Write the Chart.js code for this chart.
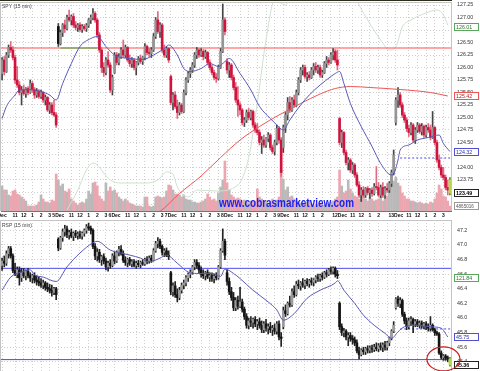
<!DOCTYPE html>
<html><head><meta charset="utf-8">
<script src="https://cdn.jsdelivr.net/npm/chart.js@4.4.1/dist/chart.umd.min.js"></script>
<style>
html,body{margin:0;padding:0;background:#fff;overflow:hidden;width:480px;height:371px;}
canvas{position:absolute;left:0;display:block;}
</style></head><body>
<canvas id="spy" width="480" height="220" style="top:0"></canvas>
<canvas id="rsp" width="480" height="151" style="top:220px"></canvas>
<script>
// ---------- time axis ----------
const dayNames = ['Dec','5Dec','6Dec','7Dec','8Dec','9Dec','12Dec','13Dec'];
const hourNames = ['11','12','1','2','3'];
const hourBars = [6,10,14,18,22];
const barsPerDay = 26;
const hiddenHourTicks = [152,178];

// ---------- SPY 15 min ----------
const spyOpen = [
125.88,126.15,125.92,126.25,126.40,126.35,126.20,125.75,125.65,125.50,125.55,125.48,125.58,125.50,125.68,125.55,125.45,125.52,125.42,125.50,125.35,125.40,125.15,125.25,125.10,125.05,
126.82,126.48,126.70,126.85,126.78,127.00,126.95,127.02,126.85,126.80,126.85,126.76,126.82,126.78,126.84,126.95,127.00,127.08,126.95,126.65,126.35,126.00,125.90,126.15,126.05,125.55,
125.90,126.25,126.10,126.22,126.35,126.25,126.40,126.15,126.08,126.15,126.00,126.10,126.18,126.12,126.20,126.42,126.30,126.28,126.35,126.62,126.95,126.72,126.85,126.35,126.25,126.38,
125.82,125.30,125.45,125.22,125.10,125.25,125.12,125.50,125.75,125.88,125.95,126.05,126.25,126.35,126.25,126.32,126.22,126.30,126.10,126.00,125.90,125.80,125.78,126.00,126.32,126.95,
126.12,125.95,126.05,125.80,125.60,125.35,125.25,125.15,124.90,124.95,125.10,125.00,125.12,124.85,124.75,124.70,124.50,124.55,124.45,124.58,124.65,124.40,124.32,124.50,124.78,124.55,
124.40,124.80,125.05,125.30,125.15,125.35,125.25,125.50,125.75,125.95,126.00,125.82,125.85,125.80,125.95,126.02,125.95,126.00,125.85,125.90,126.08,126.15,126.10,126.25,126.32,126.15,
124.98,124.50,124.70,124.30,124.10,124.15,123.95,124.05,123.85,123.65,123.45,123.55,123.45,123.58,123.50,123.55,123.48,123.62,123.60,123.45,123.60,123.45,123.58,123.55,123.68,123.90,
124.90,125.35,125.45,125.25,125.05,124.95,124.78,124.70,124.85,124.55,124.75,124.85,124.72,124.82,124.65,124.80,124.75,124.60,124.80,124.50,124.15,124.00,123.85,123.80,123.60,123.75];
const spyHigh = [
126.20,126.22,126.30,126.45,126.52,126.42,126.25,126.02,125.72,125.62,125.65,125.60,125.62,125.75,125.72,125.60,125.58,125.56,125.55,125.52,125.45,125.42,125.30,125.30,125.35,125.10,
126.88,126.75,126.88,126.95,127.05,127.15,127.05,127.08,126.92,126.88,126.90,126.86,126.86,126.88,126.98,127.05,127.18,127.12,126.98,126.70,126.40,126.10,126.20,126.32,126.10,125.85,
126.30,126.30,126.28,126.40,126.55,126.45,126.42,126.25,126.20,126.18,126.12,126.22,126.25,126.22,126.48,126.45,126.38,126.40,126.68,127.00,127.12,126.90,126.88,126.45,126.42,126.40,
125.85,125.50,125.52,125.35,125.30,125.28,125.55,125.80,125.92,126.00,126.10,126.30,126.40,126.38,126.38,126.36,126.35,126.32,126.15,126.05,125.95,125.88,126.05,126.38,127.27,127.00,
126.18,126.10,126.08,125.85,125.70,125.62,125.30,125.18,125.00,125.15,125.18,125.15,125.15,124.90,124.88,124.75,124.62,124.65,124.60,124.70,124.68,124.45,124.55,124.85,124.82,124.60,
124.85,125.10,125.40,125.42,125.40,125.45,125.55,125.80,126.00,126.05,126.05,125.90,125.92,126.00,126.08,126.10,126.05,126.05,125.95,126.12,126.22,126.20,126.30,126.38,126.36,126.35,
125.00,124.75,124.72,124.35,124.20,124.18,124.10,124.08,123.90,123.72,123.60,123.62,123.60,123.62,123.58,123.60,123.68,124.02,123.70,123.65,123.70,123.62,123.68,123.72,123.95,124.35,
125.40,125.60,125.50,125.30,125.10,125.00,124.85,124.90,124.88,124.80,124.90,124.88,124.88,124.85,124.85,124.88,124.85,125.12,124.82,124.55,124.25,124.05,124.00,123.85,123.75,123.80];
const spyLow = [
125.75,125.85,125.90,126.20,126.30,126.15,125.68,125.60,125.45,125.25,125.45,125.40,125.45,125.48,125.50,125.38,125.40,125.38,125.38,125.30,125.25,125.12,125.08,125.05,125.02,124.80,
126.42,126.45,126.62,126.70,126.75,126.92,126.85,126.80,126.75,126.72,126.72,126.70,126.74,126.72,126.80,126.88,126.95,126.90,126.60,126.30,125.90,125.82,125.85,126.00,125.50,125.45,
125.88,126.05,126.05,126.18,126.20,126.20,126.12,126.02,126.00,125.95,125.85,126.05,126.08,126.06,126.15,126.25,126.22,126.20,126.32,126.58,126.68,126.60,126.30,126.20,126.20,126.10,
125.25,125.15,125.18,124.98,125.05,125.08,125.10,125.45,125.70,125.80,125.90,126.00,126.18,126.20,126.22,126.15,126.18,126.05,125.95,125.85,125.75,125.70,125.75,125.98,126.30,126.65,
125.88,125.80,125.75,125.55,125.30,125.02,125.05,124.85,124.82,124.90,124.95,124.95,124.80,124.70,124.65,124.45,124.28,124.40,124.40,124.52,124.35,124.28,124.25,124.45,124.48,123.82,
124.30,124.70,124.95,125.10,125.12,125.20,125.22,125.45,125.70,125.85,125.78,125.72,125.75,125.78,125.85,125.90,125.88,125.80,125.80,125.88,126.00,126.05,126.08,126.15,126.10,125.95,
124.45,124.40,124.25,124.05,123.95,123.90,123.88,123.80,123.62,123.40,123.32,123.40,123.40,123.45,123.38,123.42,123.45,123.55,123.42,123.40,123.40,123.38,123.50,123.50,123.62,123.85,
124.85,125.20,125.20,125.00,124.90,124.72,124.62,124.65,124.50,124.48,124.70,124.68,124.65,124.60,124.60,124.70,124.55,124.58,124.45,124.10,123.95,123.80,123.75,123.55,123.45,123.45];
const spyClose = [
126.15,125.92,126.25,126.40,126.35,126.20,125.75,125.65,125.50,125.55,125.48,125.58,125.50,125.68,125.55,125.45,125.52,125.42,125.50,125.35,125.40,125.15,125.25,125.10,125.05,124.85,
126.48,126.70,126.85,126.78,127.00,126.95,127.02,126.85,126.80,126.85,126.76,126.82,126.78,126.84,126.95,127.00,127.08,126.95,126.65,126.35,126.00,125.90,126.15,126.05,125.55,125.80,
126.25,126.10,126.22,126.35,126.25,126.40,126.15,126.08,126.15,126.00,126.10,126.18,126.12,126.20,126.42,126.30,126.28,126.35,126.62,126.95,126.72,126.85,126.35,126.25,126.38,126.15,
125.30,125.45,125.22,125.10,125.25,125.12,125.50,125.75,125.88,125.95,126.05,126.25,126.35,126.25,126.32,126.22,126.30,126.10,126.00,125.90,125.80,125.78,126.00,126.32,126.95,126.72,
125.95,126.05,125.80,125.60,125.35,125.25,125.15,124.90,124.95,125.10,125.00,125.12,124.85,124.75,124.70,124.50,124.55,124.45,124.58,124.65,124.40,124.32,124.50,124.78,124.55,123.90,
124.80,125.05,125.30,125.15,125.35,125.25,125.50,125.75,125.95,126.00,125.82,125.85,125.80,125.95,126.02,125.95,126.00,125.85,125.90,126.08,126.15,126.10,126.25,126.30,126.15,126.05,
124.50,124.70,124.30,124.10,124.15,123.95,124.05,123.85,123.65,123.45,123.55,123.45,123.58,123.50,123.55,123.48,123.62,123.60,123.45,123.60,123.45,123.58,123.55,123.68,123.90,124.25,
125.35,125.45,125.25,125.05,124.95,124.78,124.70,124.85,124.55,124.75,124.85,124.72,124.82,124.65,124.80,124.75,124.60,124.80,124.50,124.15,124.00,123.85,123.80,123.60,123.55,123.49];
// volume, millions of shares per bar
const spyVolume = [
25,21,21,16,15,20,21,17,16,14,12,10,5,5,5,5,6,9,16,12,9,9,8,11,10,37,
31,25,27,20,19,22,12,10,8,6,8,9,8,12,20,17,28,29,25,15,12,10,28,20,24,20,
21,18,14,12,10,12,10,8,7,6,5,5,5,4,14,14,5,4,5,14,15,14,13,14,20,26,
25,21,17,17,16,14,16,12,11,11,9,9,8,8,9,10,12,17,14,11,12,10,18,24,31,50,
28,21,16,14,12,13,12,10,11,9,8,10,9,10,22,14,12,10,9,8,10,12,9,11,14,41,
32,21,24,14,15,12,10,9,8,8,7,9,10,6,5,7,6,8,5,6,8,7,9,10,12,14,
41,25,18,20,31,22,18,15,14,12,20,16,12,10,14,12,10,11,12,14,10,12,15,20,27,30,
34,28,25,18,15,12,12,10,10,9,8,9,8,7,8,7,9,8,12,18,26,22,15,14,10,4.87];
// moving averages / overlays (bar index, value)
const spyMaBars = [0,2,6,8,13,18,22,25,28,32,36,41,44,48,52,55,59,65,70,75,77,81,84,87,92,96,100,103,105,110,115,119,124,127,130,133,138,142,147,152,154,156,158,161,166,171,175,180,181,183,184,188,192,197,202,204,207];
const spyMaValues = [124.98,125.22,125.45,125.55,125.56,125.52,125.45,125.35,125.68,126.08,126.42,126.58,126.62,126.42,126.25,126.2,126.18,126.16,126.25,126.38,126.45,126.25,125.98,125.92,125.98,126.08,126.02,126.12,126.18,125.88,125.55,125.22,124.98,124.85,124.75,124.95,125.25,125.45,125.65,125.82,125.88,125.92,125.68,125.28,124.82,124.42,124.08,123.85,123.87,124.15,124.35,124.45,124.55,124.6,124.65,124.48,124.32];
const spyLongMaBars = [70,73,82,92,101,110,119,128,138,147,154,161,170,184,198,206];
const spyLongMaValues = [123.05,123.12,123.48,123.83,124.2,124.55,124.82,125.05,125.28,125.47,125.58,125.62,125.6,125.56,125.5,125.43];
const spyBandBars = [30,35,39,42,44,47,50,55,67,72,76,79,81,86,90,99,109,114,118,122,126,131,135,152,161,164,169,175,179,182,185,189,196,201,204,206];
const spyBandValues = [123.15,123.55,123.95,124.09,124.05,123.89,123.75,123.69,123.69,123.75,123.91,123.87,123.61,123.41,123.55,123.53,123.65,124.2,125.3,126.55,127.35,127.25,127.75,128.5,127.75,127.35,126.95,126.55,126.35,126.41,126.81,126.95,127.09,127.15,127.05,126.85];
const spyResistance = 126.39;
const spyResistanceGreenBars = [27,44];
const spyDashLevel = 124.19;
const spyDashFromBar = 184;
const spyPriceTicks = [123.25,123.5,123.75,124,124.25,124.5,124.75,125,125.25,125.5,125.75,126,126.25,126.5,126.75,127,127.25];
const spyTagTexts = ['126.01','125.42','124.32','123.49','4865016'];

// ---------- RSP 15 min ----------
const rspOpen = [
46.72,46.78,46.75,46.88,46.95,46.85,46.65,46.60,46.66,46.55,46.62,46.58,46.64,46.58,46.55,46.58,46.52,46.50,46.48,46.45,46.48,46.42,46.40,46.38,46.35,46.40,
47.08,46.96,47.10,47.18,47.22,47.14,47.17,47.12,47.16,47.13,47.15,47.12,47.16,47.20,47.25,47.23,47.20,46.98,46.85,46.90,46.80,46.84,46.78,46.70,46.75,46.72,
46.85,46.78,46.90,46.94,46.88,46.79,46.76,46.80,46.74,46.77,46.72,46.75,46.73,46.76,46.74,46.80,46.78,46.82,46.79,46.92,47.02,47.05,46.98,46.90,46.92,46.86,
46.62,46.36,46.44,46.32,46.28,46.38,46.45,46.48,46.55,46.60,46.63,46.70,46.76,46.72,46.66,46.60,46.58,46.62,46.56,46.58,46.54,46.57,46.55,46.70,46.92,47.05,
46.62,46.50,46.36,46.28,46.14,46.24,46.16,46.22,46.12,46.02,45.90,45.96,45.94,45.98,45.92,45.95,45.90,45.84,45.92,45.86,45.88,45.84,45.86,45.82,45.92,45.74,
45.88,46.10,46.06,46.20,46.18,46.36,46.32,46.46,46.44,46.48,46.45,46.50,46.47,46.51,46.49,46.52,46.56,46.54,46.58,46.56,46.62,46.60,46.66,46.64,46.68,46.60,
46.20,45.88,45.80,45.82,45.74,45.76,45.72,45.70,45.66,45.55,45.50,45.56,45.54,45.58,45.56,45.59,45.57,45.60,45.58,45.62,45.60,45.63,45.60,45.66,45.72,45.82,
46.14,46.26,46.20,46.24,46.05,45.96,45.88,45.96,45.98,45.92,45.95,45.91,45.93,45.89,45.92,45.88,45.86,45.90,45.84,45.80,45.78,45.52,45.46,45.48,45.45,45.44];
const rspHigh = [
46.82,46.85,46.92,46.98,46.98,46.88,46.75,46.70,46.70,46.68,46.68,46.66,46.68,46.62,46.60,46.62,46.58,46.56,46.54,46.52,46.50,46.48,46.46,46.45,46.42,46.42,
47.10,47.12,47.22,47.27,47.26,47.20,47.22,47.18,47.20,47.18,47.19,47.18,47.22,47.28,47.30,47.26,47.22,47.02,46.95,46.94,46.86,46.88,46.82,46.78,46.80,46.88,
46.90,46.92,46.98,46.99,46.92,46.84,46.82,46.83,46.80,46.80,46.78,46.79,46.78,46.80,46.82,46.84,46.85,46.86,46.95,47.05,47.10,47.08,47.00,46.95,46.96,46.92,
46.64,46.48,46.50,46.40,46.42,46.48,46.52,46.58,46.62,46.66,46.72,46.80,46.80,46.76,46.70,46.66,46.64,46.66,46.62,46.62,46.60,46.62,46.72,46.95,47.22,47.08,
46.66,46.55,46.42,46.35,46.28,46.30,46.42,46.26,46.15,46.06,46.00,46.02,46.00,46.02,45.98,46.00,45.96,45.95,45.98,45.92,45.94,45.90,45.92,45.95,45.96,45.80,
46.15,46.18,46.22,46.30,46.40,46.44,46.50,46.52,46.50,46.54,46.52,46.54,46.53,46.55,46.54,46.58,46.60,46.60,46.62,46.64,46.66,46.68,46.70,46.70,46.70,46.65,
46.22,45.92,45.86,45.84,45.80,45.80,45.76,45.74,45.70,45.60,45.58,45.60,45.60,45.62,45.62,45.63,45.64,45.66,45.65,45.66,45.66,45.68,45.68,45.74,45.84,45.95,
46.28,46.30,46.28,46.26,46.08,46.00,46.00,46.02,46.00,45.98,45.98,45.96,45.96,45.94,45.95,45.92,46.02,45.92,45.86,45.82,45.80,45.55,45.50,45.50,45.48,45.46];
const rspLow = [
46.65,46.70,46.72,46.82,46.82,46.62,46.58,46.55,46.45,46.50,46.55,46.52,46.55,46.50,46.48,46.48,46.45,46.44,46.42,46.40,46.38,46.36,46.34,46.30,46.32,46.25,
46.92,46.94,47.05,47.12,47.10,47.08,47.10,47.06,47.10,47.08,47.09,47.08,47.12,47.16,47.20,47.15,46.95,46.80,46.78,46.76,46.72,46.74,46.66,46.64,46.68,46.70,
46.74,46.76,46.85,46.86,46.76,46.72,46.70,46.72,46.70,46.70,46.68,46.70,46.69,46.72,46.72,46.74,46.75,46.76,46.78,46.90,46.96,46.95,46.86,46.84,46.84,46.80,
46.32,46.30,46.28,46.22,46.25,46.34,46.40,46.44,46.50,46.55,46.60,46.66,46.68,46.62,46.56,46.54,46.52,46.54,46.50,46.50,46.48,46.52,46.53,46.68,46.90,46.80,
46.45,46.32,46.24,46.10,46.10,46.12,46.14,46.08,45.98,45.86,45.85,45.88,45.86,45.88,45.84,45.86,45.80,45.80,45.82,45.78,45.80,45.76,45.78,45.78,45.70,45.61,
45.85,46.02,46.04,46.15,46.16,46.28,46.30,46.40,46.38,46.42,46.40,46.44,46.42,46.45,46.44,46.48,46.50,46.50,46.52,46.54,46.56,46.58,46.60,46.60,46.56,46.54,
45.84,45.76,45.74,45.70,45.62,45.68,45.64,45.62,45.52,45.44,45.48,45.50,45.50,45.52,45.52,45.53,45.54,45.55,45.54,45.56,45.54,45.56,45.56,45.62,45.70,45.80,
46.12,46.16,46.14,46.02,45.92,45.84,45.85,45.90,45.80,45.88,45.88,45.86,45.86,45.85,45.84,45.82,45.82,45.82,45.76,45.76,45.50,45.44,45.42,45.42,45.40,45.34];
const rspClose = [
46.78,46.75,46.88,46.95,46.85,46.65,46.60,46.66,46.55,46.62,46.58,46.64,46.58,46.55,46.58,46.52,46.50,46.48,46.45,46.48,46.42,46.40,46.38,46.35,46.40,46.32,
46.96,47.10,47.18,47.22,47.14,47.17,47.12,47.16,47.13,47.15,47.12,47.16,47.20,47.25,47.23,47.20,46.98,46.85,46.90,46.80,46.84,46.78,46.70,46.75,46.72,46.85,
46.78,46.90,46.94,46.88,46.79,46.76,46.80,46.74,46.77,46.72,46.75,46.73,46.76,46.74,46.80,46.78,46.82,46.79,46.92,47.02,47.05,46.98,46.90,46.92,46.86,46.84,
46.36,46.44,46.32,46.28,46.38,46.45,46.48,46.55,46.60,46.63,46.70,46.76,46.72,46.66,46.60,46.58,46.62,46.56,46.58,46.54,46.57,46.55,46.70,46.92,47.05,46.86,
46.50,46.36,46.28,46.14,46.24,46.16,46.22,46.12,46.02,45.90,45.96,45.94,45.98,45.92,45.95,45.90,45.84,45.92,45.86,45.88,45.84,45.86,45.82,45.92,45.74,45.72,
46.10,46.06,46.20,46.18,46.36,46.32,46.46,46.44,46.48,46.45,46.50,46.47,46.51,46.49,46.52,46.56,46.54,46.58,46.56,46.62,46.60,46.66,46.64,46.68,46.60,46.58,
45.88,45.80,45.82,45.74,45.76,45.72,45.70,45.66,45.55,45.50,45.56,45.54,45.58,45.56,45.59,45.57,45.60,45.58,45.62,45.60,45.63,45.60,45.66,45.72,45.82,45.90,
46.26,46.20,46.24,46.05,45.96,45.88,45.96,45.98,45.92,45.95,45.91,45.93,45.89,45.92,45.88,45.86,45.90,45.84,45.80,45.78,45.52,45.46,45.48,45.45,45.44,45.36];
const rspMaBars = [0,4,9,13,15,19,25,30,36,42,44,50,55,64,68,73,76,81,86,90,97,101,103,107,110,116,123,127,130,135,141,147,154,155,158,163,167,172,177,180,183,186,192,198,203,206];
const rspMaValues = [46.38,46.56,46.63,46.66,46.59,46.56,46.50,46.70,46.89,47.03,47.05,46.93,46.89,46.82,46.77,46.82,46.86,46.75,46.63,46.61,46.61,46.57,46.67,46.61,46.54,46.38,46.22,46.11,45.97,46.06,46.27,46.38,46.48,46.51,46.38,46.20,46.04,45.90,45.79,45.72,45.81,45.88,45.90,45.88,45.86,45.74];
const rspLevels = [46.68, 45.43];
const rspDashLevel = 45.85;
const rspDashFromBar = 184;
const rspPriceTicks = [45.4,45.6,45.8,46.0,46.2,46.4,46.6,46.8,47.0,47.2];
const rspTagTexts = ['121.84','45.75','45.36'];
const rspTagValues = [46.55];
const circled = {bar: 204, value: 45.44};

// ---------- helpers ----------
Chart.defaults.font.family = "'Liberation Sans', Arial, sans-serif";
const N = spyClose.length;
const LAST = N - 1;
const xMin = -0.5, xMax = N - 0.5;

const xTickVals = [], xTickText = {};
dayNames.forEach((d, k) => {
  const s = k * barsPerDay;
  xTickVals.push(s); xTickText[s] = d;
  hourNames.forEach((h, j) => {
    const v = s + hourBars[j];
    xTickVals.push(v);
    xTickText[v] = hiddenHourTicks.includes(v) ? '' : h;
  });
});

function pts(xs, ys) { return xs.map((x, k) => ({x: x, y: ys[k]})); }

// coloured scheme (SPY): red when close < previous close
function candleStyle(O, C, mono) {
  const body = [], wick = [], vol = [];
  for (let i = 0; i < C.length; i++) {
    const prev = i > 0 ? C[i - 1] : O[i];
    const up = C[i] >= prev, hollow = C[i] >= O[i];
    if (i === C.length - 1) { body.push('#b5d94a'); wick.push('#5f8a15'); }
    else if (mono) { body.push(hollow ? '#9c9c9c' : '#141414'); wick.push('#222222'); }
    else if (up) { body.push(hollow ? '#959595' : '#111111'); wick.push('#444444'); }
    else { body.push(hollow ? '#f2a3b4' : '#d0123c'); wick.push('#e06a82'); }
    vol.push(up ? '#b9b9b9' : '#eca6b0');
  }
  return {body, wick, vol};
}

function candleSets(O, H, L, C, yId, st) {
  return [
    {type: 'bar', yAxisID: yId, data: C.map((c, i) => ({x: i, y: [L[i], H[i]]})),
     backgroundColor: st.wick, barThickness: 1, grouped: false, order: 4},
    {type: 'bar', yAxisID: yId, data: C.map((c, i) => ({x: i, y: [O[i], C[i]]})),
     backgroundColor: st.body, barThickness: 2, minBarLength: 1, grouped: false, order: 3}
  ];
}

function lineSet(data, color, width, order, extra) {
  return Object.assign({type: 'line', data: data, borderColor: color, borderWidth: width,
    pointRadius: 0, fill: false, cubicInterpolationMode: 'monotone', yAxisID: 'y', order: order}, extra || {});
}

function xScale(showLabels) {
  return {
    type: 'linear', min: xMin, max: xMax, offset: false,
    afterBuildTicks: s => { s.ticks = xTickVals.map(v => ({value: v})); },
    afterFit: s => { s.height = showLabels ? 9 : 0; s.paddingLeft = 0; s.paddingRight = 0; },
    grid: {color: '#cfcfcf', lineWidth: 1, drawTicks: false, tickLength: 0, offset: false},
    border: showLabels ? {display: true, color: '#3d9b3d', width: 1, dash: [1, 2]} : {display: false, dash: [1, 2]},
    ticks: {display: showLabels, autoSkip: false, maxRotation: 0, minRotation: 0, padding: 2,
      font: {size: 5, weight: 'bold'}, color: '#111', callback: v => xTickText[v] ?? ''}
  };
}

function yScale(min, max, ticks, dec) {
  return {
    type: 'linear', position: 'right', min: min, max: max,
    afterBuildTicks: s => { s.ticks = ticks.map(v => ({value: v})); },
    afterFit: s => { s.width = 29; s.paddingTop = 0; s.paddingBottom = 0; },
    grid: {color: '#cfcfcf', lineWidth: 1, drawTicks: false, tickLength: 0},
    border: {display: false, dash: [1, 2]},
    ticks: {padding: 6, crossAlign: 'near', font: {size: 5.3}, color: '#333', callback: v => Number(v).toFixed(dec)}
  };
}

function tag(ctx, x, y, text, stroke, color, bold, size) {
  ctx.save();
  ctx.font = (bold ? 'bold ' : '') + (size || 5.3) + "px 'Liberation Sans', Arial, sans-serif";
  const w = 25, h = 8;
  ctx.fillStyle = '#fff';
  ctx.fillRect(x, Math.round(y) - 4, w, h);
  ctx.strokeStyle = stroke; ctx.lineWidth = 1;
  ctx.strokeRect(x + 0.5, Math.round(y) - 3.5, w - 1, h - 1);
  ctx.fillStyle = color; ctx.textBaseline = 'middle'; ctx.textAlign = 'left';
  ctx.fillText(text, x + 2, Math.round(y) + 0.5, w - 3);
  ctx.restore();
}

function frame(chart) {
  const {ctx, chartArea: a} = chart;
  ctx.save();
  ctx.strokeStyle = '#c4c4c4'; ctx.lineWidth = 1;
  ctx.beginPath();
  ctx.moveTo(a.left - 0.5, a.top + 0.5); ctx.lineTo(a.right + 0.5, a.top + 0.5);
  ctx.moveTo(a.left - 0.5, a.top); ctx.lineTo(a.left - 0.5, a.bottom);
  ctx.moveTo(a.right + 0.5, a.top); ctx.lineTo(a.right + 0.5, a.bottom);
  ctx.stroke();
  ctx.restore();
}

// ---------- SPY chart ----------
const spySt = candleStyle(spyOpen, spyClose, false);
const spyDatasets = [
  {type: 'bar', yAxisID: 'yv', data: spyVolume.map((v, i) => ({x: i, y: v})),
   backgroundColor: spySt.vol, barThickness: 2, grouped: false, order: 12},
  lineSet(pts(spyBandBars, spyBandValues), '#cfe0cf', 1, 11),
  lineSet([{x: xMin, y: spyResistance}, {x: xMax, y: spyResistance}], '#ff4f4f', 1, 10, {cubicInterpolationMode: 'default'}),
  lineSet([{x: spyResistanceGreenBars[0], y: spyResistance}, {x: spyResistanceGreenBars[1], y: spyResistance}], '#3cb043', 1, 9, {cubicInterpolationMode: 'default'}),
  lineSet([{x: spyDashFromBar, y: spyDashLevel}, {x: xMax, y: spyDashLevel}], '#4a4af0', 1, 8, {borderDash: [2, 2], cubicInterpolationMode: 'default'}),
  ...candleSets(spyOpen, spyHigh, spyLow, spyClose, 'y', spySt),
  lineSet(pts(spyLongMaBars, spyLongMaValues), '#ee5555', 1, 2),
  lineSet(pts(spyMaBars, spyMaValues), '#5858b8', 1, 1)
];

const spyDecor = {
  id: 'spyDecor',
  afterDraw(chart) {
    const {ctx, chartArea: a, scales} = chart;
    frame(chart);
    ctx.save();
    ctx.strokeStyle = '#2c2c1c'; ctx.lineWidth = 1;
    ctx.beginPath(); ctx.moveTo(0, 0.5); ctx.lineTo(a.right + 1, 0.5); ctx.stroke();
    ctx.font = "5px 'Liberation Sans', Arial, sans-serif";
    ctx.fillStyle = '#444'; ctx.textBaseline = 'alphabetic';
    ctx.fillText('SPY (15 min)', 2, 8, 31);
    ctx.font = "bold 12px 'Liberation Sans', Arial, sans-serif";
    ctx.fillStyle = '#1f1ff0';
    ctx.fillText('www.cobrasmarketview.com', 219, 207, 135);
    ctx.restore();
    const tx = a.right + 3, y = scales.y, yv = scales.yv;
    tag(ctx, tx, y.getPixelForValue(spyBandValues[spyBandValues.length - 1]) + 2, spyTagTexts[0], '#5aa65a', '#2f6f2f', false);
    tag(ctx, tx, y.getPixelForValue(spyLongMaValues[spyLongMaValues.length - 1]), spyTagTexts[1], '#ee5555', '#b02020', false);
    tag(ctx, tx, y.getPixelForValue(spyMaValues[spyMaValues.length - 1]), spyTagTexts[2], '#5050d0', '#2a2aa0', false);
    tag(ctx, tx, y.getPixelForValue(spyClose[LAST]), spyTagTexts[3], '#222', '#000', true);
    tag(ctx, tx, yv.getPixelForValue(spyVolume[LAST]), spyTagTexts[4], '#999', '#555', false, 4.6);
  }
};

new Chart(document.getElementById('spy'), {
  type: 'bar',
  data: {datasets: spyDatasets},
  options: {
    responsive: false, animation: false, devicePixelRatio: 1,
    layout: {padding: {left: 1, right: 0, top: 2, bottom: 0}},
    plugins: {legend: {display: false}, tooltip: {enabled: false}},
    scales: {
      x: xScale(true),
      y: yScale(123.13, 127.31, spyPriceTicks, 2),
      yv: {type: 'linear', display: false, min: 0, max: 209}
    }
  },
  plugins: [spyDecor]
});

// ---------- RSP chart ----------
const rspSt = candleStyle(rspOpen, rspClose, true);
const rspDatasets = [
  lineSet([{x: xMin, y: rspLevels[0]}, {x: xMax, y: rspLevels[0]}], '#4b4bf5', 1, 10, {cubicInterpolationMode: 'default'}),
  lineSet([{x: xMin, y: rspLevels[1]}, {x: xMax, y: rspLevels[1]}], '#4b4bf5', 1, 9, {cubicInterpolationMode: 'default'}),
  lineSet([{x: rspDashFromBar, y: rspDashLevel}, {x: xMax, y: rspDashLevel}], '#4a4af0', 1, 8, {borderDash: [2, 2], cubicInterpolationMode: 'default'}),
  ...candleSets(rspOpen, rspHigh, rspLow, rspClose, 'y', rspSt),
  lineSet(pts(rspMaBars, rspMaValues), '#5858b8', 1, 1)
];

const rspDecor = {
  id: 'rspDecor',
  afterDraw(chart) {
    const {ctx, chartArea: a, scales} = chart;
    frame(chart);
    ctx.save();
    ctx.font = "5px 'Liberation Sans', Arial, sans-serif";
    ctx.fillStyle = '#444'; ctx.textBaseline = 'alphabetic';
    ctx.fillText('RSP (15 min)', 2, 7, 31);
    ctx.restore();
    const tx = a.right + 3, y = scales.y;
    tag(ctx, tx, y.getPixelForValue(rspTagValues[0]), rspTagTexts[0], '#5aa65a', '#2f6f2f', false);
    tag(ctx, tx, y.getPixelForValue(rspMaValues[rspMaValues.length - 1]), rspTagTexts[1], '#5050d0', '#2a2aa0', false);
    tag(ctx, tx, y.getPixelForValue(rspClose[LAST]), rspTagTexts[2], '#222', '#000', true);
    const cx = scales.x.getPixelForValue(circled.bar), cy = y.getPixelForValue(circled.value);
    ctx.save();
    ctx.strokeStyle = '#d01818'; ctx.lineWidth = 1.2;
    ctx.beginPath(); ctx.ellipse(cx, cy, 16.5, 12, 0, 0, Math.PI * 2); ctx.stroke();
    ctx.restore();
  }
};

new Chart(document.getElementById('rsp'), {
  type: 'bar',
  data: {datasets: rspDatasets},
  options: {
    responsive: false, animation: false, devicePixelRatio: 1,
    layout: {padding: {left: 1, right: 0, top: 0, bottom: 0}},
    plugins: {legend: {display: false}, tooltip: {enabled: false}},
    scales: {
      x: xScale(false),
      y: yScale(45.274, 47.342, rspPriceTicks, 1)
    }
  },
  plugins: [rspDecor]
});
</script>
</body></html>
